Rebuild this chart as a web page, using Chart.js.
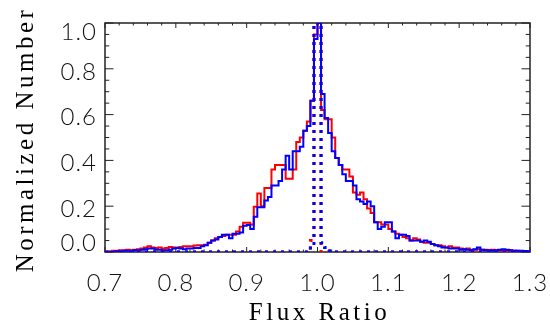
<!DOCTYPE html>
<html>
<head>
<meta charset="utf-8">
<script src="https://cdn.jsdelivr.net/npm/chart.js@4.4.1/dist/chart.umd.min.js"></script>
<style>
  html, body { margin: 0; padding: 0; background: #fff; }
  #wrap { width: 550px; height: 331px; }
</style>
</head>
<body>
<div id="wrap"><canvas id="flux"></canvas></div>
<script>
// histogram bins: 0.7 .. 1.3, width 0.005
const binStart = 0.7;
const binWidth = 0.005;

// solid histograms (normalized number per bin)
const redSolid = [
  0, 0.003, 0.005, 0.005, 0.008, 0.008, 0.01, 0.008, 0.01, 0.012,
  0.015, 0.02, 0.025, 0.02, 0.018, 0.02, 0.015, 0.018, 0.022, 0.02,
  0.02, 0.022, 0.025, 0.025, 0.025, 0.028, 0.03, 0.03, 0.032, 0.04,
  0.05, 0.06, 0.065, 0.07, 0.075, 0.075, 0.075, 0.09, 0.11, 0.128,
  0.128, 0.12, 0.198, 0.256, 0.2, 0.28, 0.28, 0.36, 0.38, 0.38,
  0.38, 0.32, 0.32, 0.36, 0.48, 0.50, 0.53, 0.57, 0.66, 0.95,
  1.0, 0.62, 0.58, 0.58, 0.50, 0.41, 0.38, 0.36, 0.36, 0.33,
  0.26, 0.25, 0.26, 0.23, 0.19, 0.17, 0.13, 0.13, 0.12, 0.12,
  0.10, 0.09, 0.08, 0.075, 0.065, 0.06, 0.05, 0.06, 0.055, 0.045,
  0.04, 0.04, 0.035, 0.03, 0.03, 0.025, 0.02, 0.025, 0.02, 0.02,
  0.015, 0.012, 0.015, 0.01, 0.01, 0.012, 0.01, 0.01, 0.008, 0.01,
  0.008, 0.008, 0.006, 0.006, 0.008, 0.005, 0.005, 0.004, 0.004, 0.003
];
const blueSolid = [
  0, 0, 0, 0.003, 0.003, 0.005, 0.005, 0.005, 0.008, 0.008,
  0.01, 0.012, 0.015, 0.015, 0.01, 0.01, 0.008, 0.008, 0.01, 0.015,
  0.018, 0.015, 0.012, 0.015, 0.015, 0.018, 0.017, 0.025, 0.03, 0.04,
  0.05, 0.055, 0.065, 0.075, 0.075, 0.06, 0.08, 0.08, 0.085, 0.115,
  0.118, 0.10, 0.154, 0.195, 0.195, 0.225, 0.24, 0.29, 0.29, 0.31,
  0.36, 0.42, 0.36, 0.44, 0.44, 0.46, 0.53, 0.55, 0.66, 0.93,
  1.0, 0.69, 0.585, 0.52, 0.44, 0.41, 0.38, 0.34, 0.31, 0.31,
  0.29, 0.23, 0.22, 0.21, 0.22, 0.20, 0.13, 0.10, 0.11, 0.13,
  0.13, 0.09, 0.06, 0.075, 0.075, 0.07, 0.05, 0.05, 0.05, 0.045,
  0.05, 0.045, 0.035, 0.03, 0.025, 0.02, 0.02, 0.015, 0.015, 0.015,
  0.01, 0.012, 0.01, 0.008, 0.012, 0.02, 0.01, 0.008, 0.008, 0.006,
  0.008, 0.01, 0.012, 0.01, 0.008, 0.006, 0.005, 0.005, 0.004, 0.004
];

// dotted (narrow) histograms, given as bin edges + values
const redDotEdges = [0.70, 0.985, 0.99, 0.995, 1.005, 1.30];
const redDotVals = [0, 0.01, 0.05, 1.0, 0];
const blueDotEdges = [0.70, 0.99, 0.995, 1.005, 1.01, 1.015, 1.02, 1.30];
const blueDotVals = [0, 0.03, 1.0, 0.04, 0.02, 0.005, 0];

const xTicks = [0.7, 0.8, 0.9, 1.0, 1.1, 1.2, 1.3];
const yTicks = [0.0, 0.2, 0.4, 0.6, 0.8, 1.0];
const xMinorStep = 0.02;
const yMinorStep = 0.05;

const labelFont = '300 24px Lato, "DejaVu Sans", sans-serif';

// turn edges + values into points for a stepped line
// (value i is held from edges[i] to edges[i+1])
function steps(edges, vals) {
  const pts = [{ x: edges[0], y: vals[0] }];
  for (let i = 0; i < vals.length; i++) pts.push({ x: edges[i + 1], y: vals[i] });
  return pts;
}
const solidEdges = [];
for (let i = 0; i <= redSolid.length; i++) solidEdges.push(+(binStart + i * binWidth).toFixed(3));

function lineSet(label, pts, color, dotted, order) {
  return {
    label: label,
    data: pts,
    borderColor: color,
    borderWidth: dotted ? 3 : 2,
    borderDash: dotted ? [3, 5] : [],
    stepped: 'after',
    pointRadius: 0,
    fill: false,
    order: order
  };
}

// box with inward ticks on all four sides, IDL style
const boxTicks = {
  id: 'boxTicks',
  beforeDraw(chart) {
    chart.ctx.letterSpacing = '1px';
  },
  beforeDatasetsDraw(chart) {
    const { ctx, chartArea: a, scales: { x, y } } = chart;
    ctx.save();
    ctx.strokeStyle = '#222';
    ctx.lineWidth = 1.5;
    ctx.strokeRect(a.left, a.top, a.right - a.left, a.bottom - a.top);
    ctx.lineWidth = 1;
    ctx.beginPath();
    const nx = Math.round((x.max - x.min) / xMinorStep);
    for (let i = 0; i <= nx; i++) {
      const px = x.getPixelForValue(x.min + i * xMinorStep);
      const len = (i % 5 === 0) ? 5 : 2.5;
      ctx.moveTo(px, a.bottom); ctx.lineTo(px, a.bottom - len);
      ctx.moveTo(px, a.top); ctx.lineTo(px, a.top + len);
    }
    const ny = Math.round((y.max - y.min) / yMinorStep);
    for (let i = 0; i <= ny; i++) {
      const py = y.getPixelForValue(y.min + i * yMinorStep);
      const len = (i % 4 === 0) ? 8.5 : 4.3;
      ctx.moveTo(a.left, py); ctx.lineTo(a.left + len, py);
      ctx.moveTo(a.right, py); ctx.lineTo(a.right - len, py);
    }
    ctx.stroke();
    ctx.restore();
  }
};

// y tick labels (kept inside the box at the ends) and axis titles
const labelsAndTitles = {
  id: 'labelsAndTitles',
  afterDraw(chart) {
    const { ctx, chartArea: a, scales: { y } } = chart;
    ctx.save();
    ctx.fillStyle = '#111';
    ctx.font = labelFont;
    ctx.letterSpacing = '1px';
    ctx.textAlign = 'right';
    ctx.textBaseline = 'middle';
    yTicks.forEach(v => {
      let py = y.getPixelForValue(v) + 3;
      py = Math.max(a.top + 9, Math.min(a.bottom - 9, py));
      ctx.fillText(v.toFixed(1), a.left - 8, py);
    });

    ctx.fillStyle = '#000';
    ctx.font = '25px "Liberation Serif"';
    ctx.letterSpacing = '3.5px';
    ctx.textAlign = 'center';
    ctx.fillText('Flux Ratio', (a.left + a.right) / 2 + 2, a.bottom + 61);
    ctx.translate(a.left - 79, (a.top + a.bottom) / 2 + 2);
    ctx.rotate(-Math.PI / 2);
    ctx.fillText('Normalized Number', 0, 0);
    ctx.restore();
  }
};

const ctx = document.getElementById('flux').getContext('2d');
const fluxChart = new Chart(ctx, {
  type: 'line',
  data: {
    datasets: [
      lineSet('red', steps(solidEdges, redSolid), '#ff0000', false, 4),
      lineSet('blue', steps(solidEdges, blueSolid), '#0000ff', false, 3),
      lineSet('red dotted', steps(redDotEdges, redDotVals), '#ff0000', true, 2),
      lineSet('blue dotted', steps(blueDotEdges, blueDotVals), '#0000ff', true, 1)
    ]
  },
  options: {
    responsive: true,
    maintainAspectRatio: false,
    animation: false,
    layout: { padding: { top: 23, right: 20, left: 0, bottom: 0 } },
    plugins: {
      legend: { display: false },
      tooltip: { enabled: false }
    },
    scales: {
      x: {
        type: 'linear',
        min: 0.7,
        max: 1.3,
        afterBuildTicks: (s) => { s.ticks = xTicks.map(v => ({ value: v })); },
        afterFit: (s) => { s.height = 79; s.paddingLeft = 0; s.paddingRight = 0; },
        grid: { display: false, drawTicks: false },
        border: { display: false },
        ticks: {
          padding: 17,
          color: '#111',
          font: { family: 'Lato, "DejaVu Sans", sans-serif', size: 24, weight: 300 },
          maxRotation: 0,
          callback: (v) => v.toFixed(1)
        }
      },
      y: {
        min: 0,
        max: 1.0,
        afterBuildTicks: (s) => { s.ticks = yTicks.map(v => ({ value: v })); },
        afterFit: (s) => { s.width = 105; s.paddingTop = 0; s.paddingBottom = 0; },
        grid: { display: false, drawTicks: false },
        border: { display: false },
        ticks: { display: false }
      }
    }
  },
  plugins: [boxTicks, labelsAndTitles]
});
</script>
</body>
</html>
